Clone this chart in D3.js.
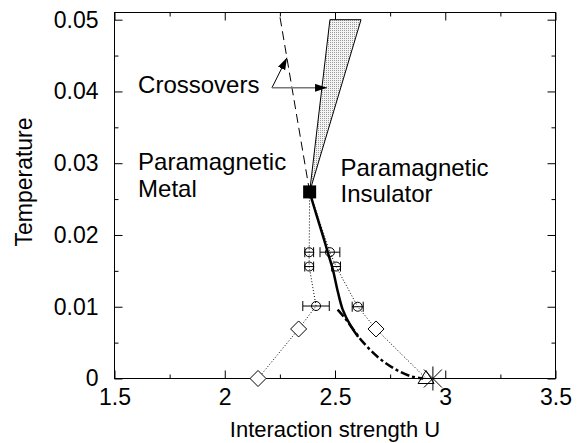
<!DOCTYPE html>
<html>
<head>
<meta charset="utf-8">
<script src="https://cdn.jsdelivr.net/npm/d3@7"></script>
<style>
  body { margin: 0; background: #fff; }
  svg { display: block; font-family: "Liberation Sans", Arial, sans-serif; }
</style>
</head>
<body>
<div id="chart"></div>
<script>
const width = 581,
  height = 443;

// axis ticks
const xTicks = [1.5, 2, 2.5, 3, 3.5];
const xMinor = [1.75, 2.25, 2.75, 3.25];
const yTicks = [0, 0.01, 0.02, 0.03, 0.04, 0.05];
const yMinor = [0.005, 0.015, 0.025, 0.035, 0.045];

// critical end point
const criticalU = 2.385, criticalT = 0.026;

// QMC points with error bars
const circleU = [2.383, 2.383, 2.414, 2.477, 2.505, 2.603];
const circleT = [0.0176, 0.0156, 0.0101, 0.0176, 0.0156, 0.0100];
const circleErr = [0.02, 0.02, 0.06, 0.045, 0.02, 0.025];

// diamonds
const diamondU = [2.151, 2.335, 2.686];
const diamondT = [0, 0.0069, 0.0069];

// T = 0 points
const triangleU = 2.913, starU = 2.944;

// dotted boundaries Uc1 / Uc2
const uc1U = [2.151, 2.335, 2.414, 2.383, 2.383, 2.385];
const uc1T = [0, 0.0069, 0.0101, 0.0156, 0.0176, 0.026];
const uc2U = [2.913, 2.686, 2.603, 2.505, 2.477, 2.385];
const uc2T = [0, 0.0069, 0.0100, 0.0156, 0.0176, 0.026];

// thick solid transition line
const solidU = [2.385, 2.405, 2.426, 2.447, 2.467, 2.49, 2.512, 2.535, 2.57, 2.605];
const solidT = [0.026, 0.0239, 0.0218, 0.0197, 0.0176, 0.0152, 0.0122, 0.0096, 0.0074, 0.0058];

// thick dash-dot line
const dashDotU = [2.512, 2.54, 2.565, 2.626, 2.694, 2.77, 2.845, 2.9];
const dashDotT = [0.0096, 0.0086, 0.0076, 0.0051, 0.003, 0.00135, 0.0003, 0];

// crossover lines
const crossU = [2.385, 2.247];
const crossT = [0.026, 0.051];
const wedgeU = [2.385, 2.477, 2.618];
const wedgeT = [0.026, 0.05, 0.05];

const svg = d3.select('#chart').append('svg')
  .attr('width', width)
  .attr('height', height);

const x = d3.scaleLinear().domain([1.5, 3.5]).range([114.5, 555.5]);
const y = d3.scaleLinear().domain([0, 0.051]).range([378.5, 12.5]);

const defs = svg.append('defs');
const pat = defs.append('pattern')
  .attr('id', 'dots')
  .attr('width', 2).attr('height', 2)
  .attr('patternUnits', 'userSpaceOnUse');
pat.append('rect').attr('width', 2).attr('height', 2).attr('fill', '#f4f4f4');
pat.append('rect').attr('width', 1).attr('height', 1).attr('fill', '#9a9a9a');

defs.append('marker')
  .attr('id', 'head')
  .attr('viewBox', '0 0 12 8')
  .attr('refX', 12).attr('refY', 4)
  .attr('markerWidth', 12).attr('markerHeight', 8)
  .attr('markerUnits', 'userSpaceOnUse')
  .attr('orient', 'auto')
  .append('path').attr('d', 'M0,0L12,4L0,8Z').attr('fill', '#000');

// axes (ticks inward)
function styleAxis(g) {
  g.select('.domain').remove();
  g.selectAll('line').attr('stroke', '#000');
  g.selectAll('text').attr('font-size', 23).attr('fill', '#000')
    .attr('font-family', '"Liberation Sans", Arial, sans-serif');
}

svg.append('g').attr('transform', 'translate(0,378.5)')
  .call(d3.axisBottom(x).tickValues(xTicks).tickFormat(d3.format('')).tickSizeInner(-8).tickSizeOuter(0).tickPadding(10))
  .call(styleAxis);
svg.append('g').attr('transform', 'translate(0,378.5)')
  .call(d3.axisBottom(x).tickValues(xMinor).tickFormat('').tickSizeInner(-4).tickSizeOuter(0))
  .call(styleAxis);
svg.append('g').attr('transform', 'translate(0,12.5)')
  .call(d3.axisTop(x).tickValues(xTicks).tickFormat('').tickSizeInner(-8).tickSizeOuter(0))
  .call(styleAxis);
svg.append('g').attr('transform', 'translate(0,12.5)')
  .call(d3.axisTop(x).tickValues(xMinor).tickFormat('').tickSizeInner(-4).tickSizeOuter(0))
  .call(styleAxis);

svg.append('g').attr('transform', 'translate(114.5,0)')
  .call(d3.axisLeft(y).tickValues(yTicks).tickFormat(d3.format('')).tickSizeInner(-8).tickSizeOuter(0).tickPadding(16))
  .call(styleAxis);
svg.append('g').attr('transform', 'translate(114.5,0)')
  .call(d3.axisLeft(y).tickValues(yMinor).tickFormat('').tickSizeInner(-4).tickSizeOuter(0))
  .call(styleAxis);
svg.append('g').attr('transform', 'translate(555.5,0)')
  .call(d3.axisRight(y).tickValues(yTicks).tickFormat('').tickSizeInner(-8).tickSizeOuter(0))
  .call(styleAxis);
svg.append('g').attr('transform', 'translate(555.5,0)')
  .call(d3.axisRight(y).tickValues(yMinor).tickFormat('').tickSizeInner(-4).tickSizeOuter(0))
  .call(styleAxis);

svg.append('rect')
  .attr('x', 114.5).attr('y', 12.5)
  .attr('width', 441).attr('height', 366)
  .attr('fill', 'none').attr('stroke', '#000');

// axis titles
svg.append('text')
  .attr('x', 335).attr('y', 437)
  .attr('text-anchor', 'middle')
  .attr('font-size', 22)
  .text('Interaction strength U');
svg.append('text')
  .attr('transform', 'translate(32,182) rotate(-90)')
  .attr('text-anchor', 'middle')
  .attr('font-size', 23)
  .text('Temperature');

const line = d3.line().x(d => x(d[0])).y(d => y(d[1]));
const zip = (a, b) => a.map((v, i) => [v, b[i]]);

// shaded crossover region
svg.append('path')
  .attr('d', line(zip(wedgeU, wedgeT)) + 'Z')
  .attr('fill', 'url(#dots)')
  .attr('stroke', '#000')
  .attr('stroke-width', 1);

// dashed crossover
svg.append('path')
  .attr('d', line(zip(crossU, crossT)))
  .attr('fill', 'none').attr('stroke', '#000')
  .attr('stroke-width', 1).attr('stroke-dasharray', '9,5');

// dotted boundaries
[zip(uc1U, uc1T), zip(uc2U, uc2T)].forEach(pts => {
  svg.append('path')
    .attr('d', line(pts))
    .attr('fill', 'none').attr('stroke', '#000')
    .attr('stroke-width', 1).attr('stroke-dasharray', '1,2');
});

// thick lines
const smooth = d3.line().x(d => x(d[0])).y(d => y(d[1])).curve(d3.curveCatmullRom);
svg.append('path')
  .attr('d', smooth(zip(solidU, solidT)))
  .attr('fill', 'none').attr('stroke', '#000').attr('stroke-width', 2.5);
svg.append('path')
  .attr('d', smooth(zip(dashDotU, dashDotT)))
  .attr('fill', 'none').attr('stroke', '#000').attr('stroke-width', 2.5)
  .attr('stroke-dasharray', '9,3,3,3');

// error bars and circles
const circles = zip(circleU, circleT).map((p, i) => ({u: p[0], t: p[1], e: circleErr[i]}));
const eb = svg.append('g').attr('stroke', '#000').attr('stroke-width', 1);
circles.forEach(d => {
  const yy = y(d.t), x0 = x(d.u - d.e), x1 = x(d.u + d.e);
  eb.append('line').attr('x1', x0).attr('x2', x1).attr('y1', yy).attr('y2', yy);
  eb.append('line').attr('x1', x0).attr('x2', x0).attr('y1', yy - 5).attr('y2', yy + 5);
  eb.append('line').attr('x1', x1).attr('x2', x1).attr('y1', yy - 5).attr('y2', yy + 5);
});
svg.append('g').selectAll('circle')
  .data(circles).enter().append('circle')
  .attr('cx', d => x(d.u)).attr('cy', d => y(d.t)).attr('r', 4.5)
  .attr('fill', 'none').attr('stroke', '#000');

// diamonds
svg.append('g').selectAll('path')
  .data(zip(diamondU, diamondT)).enter().append('path')
  .attr('transform', d => 'translate(' + x(d[0]) + ',' + y(d[1]) + ')')
  .attr('d', 'M0,-8L8,0L0,8L-8,0Z')
  .attr('fill', '#fff').attr('stroke', '#000');

// triangle and star at T = 0
svg.append('path')
  .attr('transform', 'translate(' + x(triangleU) + ',' + y(0) + ')')
  .attr('d', 'M0,-8L8,5L-8,5Z')
  .attr('fill', 'none').attr('stroke', '#000');
svg.append('path')
  .attr('transform', 'translate(' + x(starU) + ',' + y(0) + ')')
  .attr('d', 'M0,-12V12M-9,-9L9,9M-9,9L9,-9')
  .attr('stroke', '#000').attr('stroke-width', 1);

// critical point
svg.append('rect')
  .attr('x', x(criticalU) - 6.5).attr('y', y(criticalT) - 6.5)
  .attr('width', 13).attr('height', 13)
  .attr('fill', '#000');

// annotations
const labels = [
  {u: 1.607, t: 0.0398, s: 'Crossovers'},
  {u: 1.607, t: 0.0290, s: 'Paramagnetic'},
  {u: 1.607, t: 0.0253, s: 'Metal'},
  {u: 2.525, t: 0.0282, s: 'Paramagnetic'},
  {u: 2.525, t: 0.0246, s: 'Insulator'}
];
svg.append('g').selectAll('text')
  .data(labels).enter().append('text')
  .attr('x', d => x(d.u)).attr('y', d => y(d.t))
  .attr('font-size', 24)
  .text(d => d.s);

// arrows
const arrowStart = [2.214, 0.0405];
svg.append('line')
  .attr('x1', x(arrowStart[0])).attr('y1', y(arrowStart[1]))
  .attr('x2', x(2.282)).attr('y2', y(0.0447))
  .attr('stroke', '#000').attr('stroke-width', 1)
  .attr('marker-end', 'url(#head)');
svg.append('line')
  .attr('x1', x(arrowStart[0])).attr('y1', y(arrowStart[1]))
  .attr('x2', x(2.464)).attr('y2', y(0.0405))
  .attr('stroke', '#777').attr('stroke-width', 1.5)
  .attr('marker-end', 'url(#head)');
</script>
</body>
</html>
